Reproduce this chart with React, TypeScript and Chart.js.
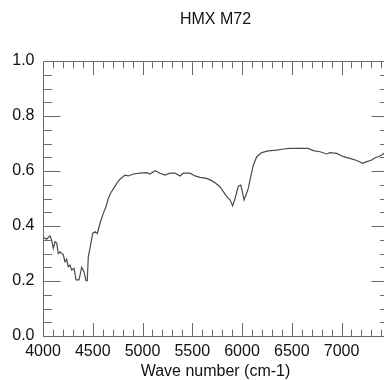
import React, { useEffect, useRef } from "react";
import { Chart, registerables } from "chart.js";

Chart.register(...registerables);

const TITLE = "HMX M72";
const X_TITLE = "Wave number (cm-1)";

const wavenumbers = [
  4003, 4037, 4070, 4087, 4104, 4121, 4138, 4154, 4171, 4204, 4221, 4238, 4254, 4271, 4288,
  4312, 4332, 4362, 4389, 4412, 4432, 4445, 4455, 4472, 4499, 4523, 4546, 4573, 4606, 4633,
  4656, 4680, 4707, 4741, 4774, 4824, 4857, 4908, 4975, 5042, 5075, 5126, 5176, 5226, 5276,
  5327, 5377, 5410, 5477, 5528, 5578, 5645, 5695, 5729, 5779, 5812, 5846, 5879, 5906, 5930,
  5963, 5987, 6003, 6020, 6040, 6063, 6087, 6114, 6148, 6198, 6264, 6349, 6415, 6482, 6583,
  6666, 6716, 6784, 6851, 6884, 6952, 7018, 7085, 7153, 7213, 7253, 7303, 7336, 7370, 7404,
  7427, 7466,
];
const reflectance = [
  0.359, 0.352, 0.364, 0.349, 0.319, 0.343, 0.337, 0.3, 0.306, 0.295, 0.27, 0.279, 0.252, 0.258, 0.24,
  0.246, 0.204, 0.204, 0.25, 0.234, 0.201, 0.201, 0.288, 0.319, 0.373, 0.379, 0.373, 0.41, 0.446, 0.47,
  0.5, 0.52, 0.535, 0.555, 0.57, 0.585, 0.582, 0.589, 0.592, 0.594, 0.589, 0.601, 0.592, 0.585, 0.592,
  0.592, 0.582, 0.592, 0.592, 0.582, 0.577, 0.573, 0.565, 0.557, 0.543, 0.525, 0.507, 0.495, 0.473, 0.5,
  0.545, 0.549, 0.525, 0.495, 0.513, 0.537, 0.579, 0.622, 0.652, 0.667, 0.673, 0.676, 0.68, 0.682, 0.682,
  0.682, 0.674, 0.67, 0.662, 0.667, 0.664, 0.652, 0.646, 0.638, 0.628, 0.634, 0.64, 0.648, 0.652, 0.658,
  0.664, 0.668,
];

const xTickLabels = [4000, 4500, 5000, 5500, 6000, 6500, 7000];
const yTickLabels = [0.0, 0.2, 0.4, 0.6, 0.8, 1.0];
const X_MIN = 4000;
const X_MAX = 7467;
const Y_MIN = 0;
const Y_MAX = 1;
const X_MINOR_STEP = 100;
const Y_MINOR_STEP = 0.05;

const AXIS_COLOR = "#6a6a6a";
const LINE_COLOR = "#4a4a4a";
const TEXT_COLOR = "#111";
const FONT = "'Liberation Sans', Arial, Helvetica, sans-serif";

const frameTicks = {
  id: "frameTicks",
  afterDraw(chart: any) {
    const { ctx, chartArea: a, scales } = chart;
    const xs = scales.x;
    const ys = scales.y;
    const L = Math.round(a.left) + 0.5;
    const R = Math.round(a.right) + 0.5;
    const T = Math.round(a.top) + 0.5;
    const B = Math.round(a.bottom) + 0.5;
    ctx.save();
    ctx.strokeStyle = AXIS_COLOR;
    ctx.lineWidth = 1;
    ctx.beginPath();
    ctx.moveTo(L, T);
    ctx.lineTo(R, T);
    ctx.lineTo(R, B);
    ctx.lineTo(L, B);
    ctx.closePath();
    // x ticks (top and bottom)
    const xMajLen = 13.5;
    const xMinLen = 6.8;
    const nx = Math.floor((X_MAX - X_MIN) / X_MINOR_STEP + 1e-6);
    for (let i = 0; i <= nx; i++) {
      const v = X_MIN + i * X_MINOR_STEP;
      const isMajor = xTickLabels.includes(v) || v % 500 === 0;
      const len = isMajor ? xMajLen : xMinLen;
      const px = Math.round(xs.getPixelForValue(v)) + 0.5;
      ctx.moveTo(px, B);
      ctx.lineTo(px, B - len);
      ctx.moveTo(px, T);
      ctx.lineTo(px, T + len);
    }
    // y ticks (left and right)
    const yMajLen = 17;
    const yMinLen = 8.5;
    const ny = Math.round((Y_MAX - Y_MIN) / Y_MINOR_STEP);
    for (let i = 0; i <= ny; i++) {
      const v = Y_MIN + i * Y_MINOR_STEP;
      const isMajor = i % 4 === 0;
      const len = isMajor ? yMajLen : yMinLen;
      const py = Math.round(ys.getPixelForValue(v)) + 0.5;
      ctx.moveTo(L, py);
      ctx.lineTo(L + len, py);
      ctx.moveTo(R, py);
      ctx.lineTo(R - len, py);
    }
    ctx.stroke();
    ctx.restore();
  },
};

export default function App() {
  const ref = useRef<HTMLCanvasElement | null>(null);

  useEffect(() => {
    if (!ref.current) return;
    const chart = new Chart(ref.current, {
      type: "line",
      data: {
        datasets: [
          {
            data: wavenumbers.map((w, i) => ({ x: w, y: reflectance[i] })),
            borderColor: LINE_COLOR,
            borderWidth: 1.2,
            pointRadius: 0,
            tension: 0,
            fill: false,
          },
        ],
      },
      options: {
        animation: false,
        responsive: false,
        devicePixelRatio: 1,
        layout: { padding: { left: 0, right: 4, top: 0, bottom: 0 } },
        plugins: {
          legend: { display: false },
          tooltip: { enabled: false },
          title: {
            display: true,
            fullSize: false,
            text: TITLE,
            color: TEXT_COLOR,
            font: { family: FONT, size: 16, weight: "normal", lineHeight: 1.2 },
            padding: { top: 10.4, bottom: 31.4 },
          },
        },
        scales: {
          x: {
            type: "linear",
            min: X_MIN,
            max: X_MAX,
            afterBuildTicks: (s: any) => {
              s.ticks = xTickLabels.map((v) => ({ value: v }));
            },
            afterFit: (s: any) => {
              s.height = 44;
            },
            grid: { display: false, drawTicks: false },
            border: { display: false },
            ticks: {
              autoSkip: false,
              maxRotation: 0,
              padding: 5.5,
              color: TEXT_COLOR,
              font: { family: FONT, size: 16 },
              callback: (v: any) => String(v),
            },
            title: {
              display: true,
              text: X_TITLE,
              color: TEXT_COLOR,
              font: { family: FONT, size: 16, lineHeight: 1 },
              padding: { top: 0, bottom: 0 },
            },
          },
          y: {
            type: "linear",
            min: Y_MIN,
            max: Y_MAX,
            afterBuildTicks: (s: any) => {
              s.ticks = yTickLabels.map((v) => ({ value: v }));
            },
            afterFit: (s: any) => {
              s.width = 43;
            },
            grid: { display: false, drawTicks: false },
            border: { display: false },
            ticks: {
              padding: 8.5,
              color: TEXT_COLOR,
              font: { family: FONT, size: 16 },
              callback: (v: any) => Number(v).toFixed(1),
            },
          },
        },
      },
      plugins: [frameTicks],
    });
    return () => chart.destroy();
  }, []);

  return (
    <div
      style={{
        position: "fixed",
        left: 0,
        top: 0,
        width: 384,
        height: 380,
        overflow: "hidden",
        background: "#fff",
      }}
    >
      <canvas ref={ref} width={392} height={380} style={{ display: "block" }} />
    </div>
  );
}
